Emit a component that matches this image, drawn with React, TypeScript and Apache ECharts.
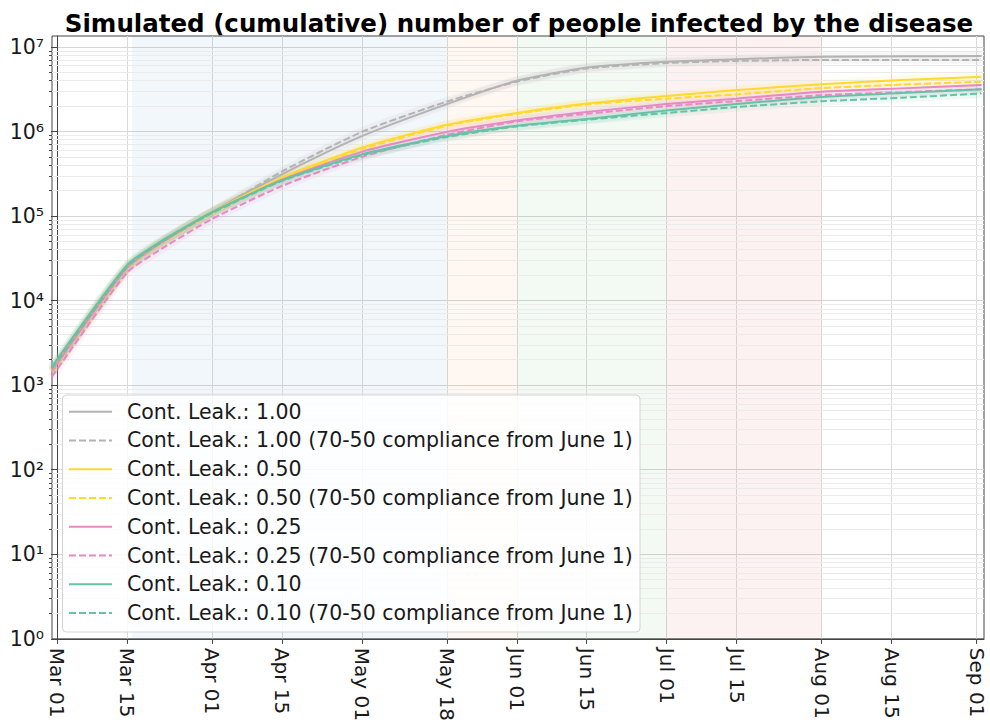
import React, { useEffect, useRef } from 'react';
import * as echarts from 'echarts';

// ---------- data ----------
const START_DATE = '2020-03-01';
const sampleDates = [
  '2020-02-29', '2020-03-15', '2020-03-22', '2020-04-01', '2020-04-15', '2020-05-01', '2020-05-18',
  '2020-06-01', '2020-06-15', '2020-07-01', '2020-07-15', '2020-08-01', '2020-08-17', '2020-09-02',
];

const leak100 = [1480, 24500, 49000, 112000, 312000, 881000, 2110000, 3980000, 5710000, 6710000, 7160000, 7690000, 7760000, 7830000];
const leak100June = [1410, 23400, 47900, 110000, 336000, 991000, 2260000, 3890000, 5560000, 6460000, 6840000, 7030000, 7030000, 7030000];
const leak050 = [1510, 25100, 50100, 112000, 285000, 646000, 1200000, 1660000, 2140000, 2630000, 3090000, 3630000, 4070000, 4440000];
const leak050June = [1450, 24000, 47900, 107000, 275000, 617000, 1170000, 1620000, 2090000, 2450000, 2750000, 3270000, 3590000, 3890000];
const leak025 = [1480, 24500, 49000, 110000, 269000, 575000, 991000, 1350000, 1700000, 2120000, 2450000, 2950000, 3240000, 3550000];
const leak025June = [1260, 21400, 41200, 92300, 227000, 501000, 912000, 1320000, 1620000, 2000000, 2290000, 2690000, 2920000, 3160000];
const leak010 = [1660, 26300, 51300, 111000, 265000, 537000, 881000, 1170000, 1410000, 1770000, 2120000, 2570000, 2850000, 3160000];
const leak010June = [1580, 25100, 49500, 108000, 260000, 525000, 861000, 1150000, 1380000, 1660000, 1950000, 2280000, 2510000, 2820000];

const seriesNames = [
  'Cont. Leak.: 1.00',
  'Cont. Leak.: 1.00 (70-50 compliance from June 1)',
  'Cont. Leak.: 0.50',
  'Cont. Leak.: 0.50 (70-50 compliance from June 1)',
  'Cont. Leak.: 0.25',
  'Cont. Leak.: 0.25 (70-50 compliance from June 1)',
  'Cont. Leak.: 0.10',
  'Cont. Leak.: 0.10 (70-50 compliance from June 1)',
];
const seriesValues = [leak100, leak100June, leak050, leak050June, leak025, leak025June, leak010, leak010June];

const xTickDates = [
  '2020-03-01', '2020-03-15', '2020-04-01', '2020-04-15', '2020-05-01', '2020-05-18', '2020-06-01',
  '2020-06-15', '2020-07-01', '2020-07-15', '2020-08-01', '2020-08-15', '2020-09-01',
];
const xTickLabels = [
  'Mar 01', 'Mar 15', 'Apr 01', 'Apr 15', 'May 01', 'May 18', 'Jun 01',
  'Jun 15', 'Jul 01', 'Jul 15', 'Aug 01', 'Aug 15', 'Sep 01',
];
const xMinDate = '2020-02-29';
const xMaxDate = '2020-09-02';

const yDecades = [0, 1, 2, 3, 4, 5, 6, 7];
const yMinorMultipliers = [2, 3, 4, 5, 6, 7, 8, 9];

const phaseStarts = ['2020-03-16', '2020-05-18', '2020-06-01', '2020-07-01'];
const phaseEnds = ['2020-05-18', '2020-06-01', '2020-07-01', '2020-08-01'];

const TITLE = 'Simulated (cumulative) number of people infected by the disease';

// ---------- styles ----------
const lineColors = ['#b3b3b3', '#b3b3b3', '#ffd92f', '#ffd92f', '#e78ac3', '#e78ac3', '#66c2a5', '#66c2a5'];
const lineDashed = [false, true, false, true, false, true, false, true];
const phaseColors = [
  'rgba(31,119,180,0.06)',
  'rgba(255,127,14,0.06)',
  'rgba(44,160,44,0.06)',
  'rgba(214,39,40,0.06)',
];
const FONT = 'DejaVu Sans';
const DASH = [7, 3];
const SMOOTH = 0.2;

const toDay = (s: string) =>
  Math.round((Date.parse(s + 'T00:00:00Z') - Date.parse(START_DATE + 'T00:00:00Z')) / 86400000);

const SUP = ['⁰', '¹', '²', '³', '⁴', '⁵', '⁶', '⁷', '⁸', '⁹'];

export default function App() {
  const ref = useRef<HTMLDivElement>(null);

  useEffect(() => {
    if (!ref.current) return;
    const chart = echarts.init(ref.current, undefined, { renderer: 'svg' });

    const sampleDays = sampleDates.map(toDay);
    const tickDays = xTickDates.map(toDay);
    const labelMap: Record<number, string> = {};
    tickDays.forEach((d, i) => (labelMap[d] = xTickLabels[i]));
    const yMajor = yDecades.map((k) => Math.pow(10, k));
    const yMinor: number[] = [];
    yDecades.slice(0, -1).forEach((k) => yMinorMultipliers.forEach((m) => yMinor.push(m * Math.pow(10, k))));

    const mainSeries = seriesValues.map((vals, i) => ({
      name: seriesNames[i],
      type: 'line',
      data: vals.map((v, j) => [sampleDays[j], v]),
      symbol: 'none',
      showSymbol: false,
      smooth: SMOOTH,
      z: 5,
      lineStyle: {
        color: lineColors[i],
        width: 2,
        type: lineDashed[i] ? DASH : 'solid',
      },
      itemStyle: { color: lineColors[i] },
    }));

    const bandSeries = seriesValues.map((vals, i) => ({
      name: 'band' + i,
      type: 'line',
      data: vals.map((v, j) => [sampleDays[j], v]),
      symbol: 'none',
      smooth: SMOOTH,
      silent: true,
      z: 3,
      lineStyle: { color: lineColors[i], width: 9, opacity: 0.1 },
    }));

    const helper = {
      name: 'helper',
      type: 'line',
      data: [],
      silent: true,
      z: 1,
      markArea: {
        silent: true,
        z: 1,
        data: phaseStarts.map((s, i) => [
          { xAxis: toDay(s), itemStyle: { color: phaseColors[i] } },
          { xAxis: toDay(phaseEnds[i]) },
        ]),
      },
      markLine: {
        silent: true,
        z: 1,
        symbol: ['none', 'none'],
        label: { show: false },
        lineStyle: { color: '#ebebeb', width: 1, type: 'solid' },
        data: yMinor.map((v) => ({ yAxis: v })),
      },
    };

    // legend drawn as graphic (box, line samples, labels)
    const LX = 62.5;
    const LY = 395;
    const ROW0 = 411.7;
    const ROWH = 28.76;
    const LZ = 100;
    const legendElements: any[] = [
      {
        type: 'rect',
        z: LZ,
        shape: { x: LX, y: LY, width: 577.5, height: 237, r: 4 },
        style: { fill: 'rgba(255,255,255,0.82)', stroke: '#d4d4d4', lineWidth: 1 },
      },
    ];
    seriesNames.forEach((name, i) => {
      const cy = ROW0 + i * ROWH;
      legendElements.push({
        type: 'line',
        z: LZ + 1,
        shape: { x1: 69, y1: cy, x2: 112, y2: cy },
        style: { stroke: lineColors[i], lineWidth: 2, lineDash: lineDashed[i] ? DASH : null },
      });
      legendElements.push({
        type: 'text',
        z: LZ + 1,
        x: 127,
        y: cy,
        style: {
          text: name,
          fontSize: 20.5,
          fontFamily: FONT,
          fill: '#1a1a1a',
          verticalAlign: 'middle',
          align: 'left',
        },
      });
    });

    chart.setOption({
      animation: false,
      textStyle: { fontFamily: FONT },
      title: {
        text: TITLE,
        left: 514,
        top: 6,
        textAlign: 'center',
        textStyle: { fontSize: 24.5, fontWeight: 'bold', color: '#000', fontFamily: FONT },
      },
      grid: {
        left: 52,
        right: 6,
        top: 36,
        bottom: 82,
        show: true,
        borderColor: '#444',
        borderWidth: 1,
        backgroundColor: 'transparent',
      },
      graphic: legendElements,
      xAxis: {
        type: 'value',
        min: toDay(xMinDate),
        max: toDay(xMaxDate) + 0.5,
        axisLine: { show: true, lineStyle: { color: '#444' } },
        axisTick: { show: true, customValues: tickDays, length: 5, lineStyle: { color: '#444' } },
        axisLabel: {
          customValues: tickDays,
          rotate: -90,
          margin: 9,
          fontSize: 20,
          color: '#1a1a1a',
          fontFamily: FONT,
          formatter: (v: number) => labelMap[Math.round(v)] ?? '',
        },
        splitLine: { show: true, lineStyle: { color: '#dadada', width: 1 } },
      },
      yAxis: [
        {
          type: 'log',
          logBase: 10,
          min: 1,
          max: Math.pow(10, 7.13),
          position: 'left',
          axisLine: { show: true, lineStyle: { color: '#444' } },
          axisTick: { show: true, customValues: yMajor, length: 6, lineStyle: { color: '#444' } },
          axisLabel: {
            customValues: yMajor,
            margin: 8,
            fontSize: 20.5,
            color: '#1a1a1a',
            fontFamily: FONT,
            formatter: (v: number) => {
              const k = Math.round(Math.log10(v));
              return '10' + String(k).split('').map((c) => SUP[+c]).join('');
            },
          },
          splitLine: { show: true, lineStyle: { color: '#d6d6d6', width: 1 } },
        },
        {
          type: 'log',
          logBase: 10,
          min: 1,
          max: Math.pow(10, 7.13),
          position: 'left',
          offset: 0,
          axisLine: { show: false },
          axisTick: { show: true, customValues: yMinor, length: 3, lineStyle: { color: '#444' } },
          axisLabel: { show: false },
          splitLine: { show: false },
        },
      ],
      series: [helper, ...bandSeries, ...mainSeries],
    });

    return () => chart.dispose();
  }, []);

  return (
    <div
      ref={ref}
      style={{ position: 'fixed', left: 0, top: 0, width: 990, height: 724, background: '#fff' }}
    />
  );
}
